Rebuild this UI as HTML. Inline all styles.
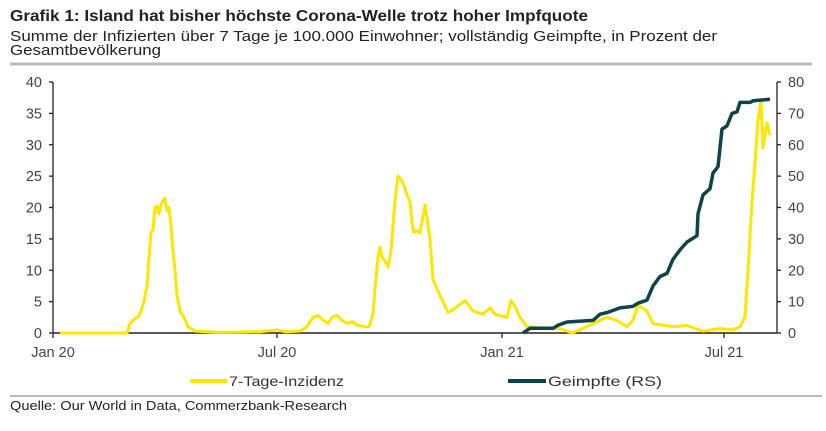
<!DOCTYPE html>
<html><head><meta charset="utf-8"><style>
body{margin:0;background:#fff;width:826px;height:426px;overflow:hidden;font-family:"Liberation Sans",sans-serif}
</style></head><body>
<svg id="s" width="826" height="426" xmlns="http://www.w3.org/2000/svg" font-family="Liberation Sans, sans-serif">
<text x="10" y="21" font-size="15.5" font-weight="bold" fill="#222" textLength="578" lengthAdjust="spacingAndGlyphs">Grafik 1: Island hat bisher höchste Corona-Welle trotz hoher Impfquote</text>
<text x="10" y="41" font-size="14.5" fill="#222" textLength="707" lengthAdjust="spacingAndGlyphs">Summe der Infizierten über 7 Tage je 100.000 Einwohner; vollständig Geimpfte, in Prozent der</text>
<text x="10" y="55" font-size="14.5" fill="#222" textLength="151" lengthAdjust="spacingAndGlyphs">Gesamtbevölkerung</text>
<line x1="10" y1="64" x2="812" y2="64" stroke="#bbb" stroke-width="3"/>
<g stroke="#222" stroke-width="1.3">
<line x1="53" y1="82" x2="53" y2="333"/>
<line x1="777" y1="82" x2="777" y2="333"/>
<line x1="53" y1="333" x2="777" y2="333" stroke-width="1.6"/>
</g>
<g id="ax" font-size="14.5" fill="#444"></g>
<polyline id="y" fill="none" stroke="#ffe600" stroke-width="3" stroke-linejoin="round"/>
<polyline id="g" fill="none" stroke="#0e4449" stroke-width="3.5" stroke-linejoin="round"/>
<line x1="190" y1="381" x2="227" y2="381" stroke="#ffe600" stroke-width="4"/>
<text x="229" y="386" font-size="14" fill="#333" textLength="115" lengthAdjust="spacingAndGlyphs">7-Tage-Inzidenz</text>
<line x1="508" y1="381" x2="546" y2="381" stroke="#0e4449" stroke-width="4"/>
<text x="548" y="386" font-size="14" fill="#333" textLength="114" lengthAdjust="spacingAndGlyphs">Geimpfte (RS)</text>
<line x1="10" y1="396" x2="822" y2="396" stroke="#bbb" stroke-width="2"/>
<text x="10" y="410" font-size="13" fill="#222" textLength="337" lengthAdjust="spacingAndGlyphs">Quelle: Our World in Data, Commerzbank-Research</text>
</svg>
<script>
var ns="http://www.w3.org/2000/svg",ax=document.getElementById("ax");
function t(x,y,s,a){var e=document.createElementNS(ns,"text");e.setAttribute("x",x);e.setAttribute("y",y);e.setAttribute("text-anchor",a);e.textContent=s;ax.appendChild(e);}
function l(x1,y1,x2,y2){var e=document.createElementNS(ns,"line");e.setAttribute("x1",x1);e.setAttribute("y1",y1);e.setAttribute("x2",x2);e.setAttribute("y2",y2);e.setAttribute("stroke","#222");e.setAttribute("stroke-width","1.3");ax.appendChild(e);}
for(var i=0;i<=8;i++){var y=333-i*251/8;t(42,y+5,String(i*5),"end");t(788,y+5,String(i*10),"start");l(49,y,53,y);l(777,y,781,y);}
[[53,"Jan 20"],[277,"Jul 20"],[502,"Jan 21"],[724,"Jul 21"]].forEach(function(p){t(p[0],357,p[1],"middle");l(p[0],333,p[0],338);});
var Y=[[60,0],[127,0],[130,1.5],[135,2.3],[138,2.5],[141,3.5],[144,5],[147,7.5],[149,12],[151,16],[153,16.5],[155,20],[157,20.2],[159,19],[161,20.5],[163,21],[165,21.5],[167,19.5],[169,20],[171,17],[173,13],[175,10],[177,6],[180,3.5],[184,2.5],[188,1],[195,0.3],[220,0.1],[260,0.2],[277,0.5],[285,0.2],[300,0.3],[307,1],[313,2.5],[318,2.8],[322,2.2],[328,1.5],[332,2.5],[337,2.8],[342,2],[348,1.5],[352,1.8],[358,1.2],[365,1],[369,1],[373,3],[375,7],[378,12],[380,13.7],[382,12],[385,11.5],[388,10.5],[391,13],[395,21],[398,25],[401,24.5],[404,23.5],[407,22],[410,21],[412,17.5],[414,16],[416,16.3],[420,16],[425,20.4],[430,15],[433,8.5],[440,6],[448,3.3],[453,3.7],[465,5.2],[473,3.5],[483,3],[490,4],[495,3],[507,2.5],[511,5.2],[515,4.2],[520,2.5],[527,1],[540,0.8],[560,0.7],[572,0],[587,1],[600,2],[607,2.5],[617,2],[627,1],[633,2],[638,4.5],[647,3.5],[653,1.5],[673,1],[687,1.2],[703,0.3],[720,0.7],[733,0.5],[740,1],[745,2.5],[748,10],[752,21],[755,27],[758,34],[761,37],[763,29.5],[767,33.5],[770,31.5]];
var G=[[523,0],[530,1.5],[553,1.5],[558,2.5],[567,3.5],[593,4],[600,6],[607,6.5],[620,8],[633,8.5],[638,9.5],[647,10.5],[653,15],[660,18],[667,19],[673,23.5],[680,26.5],[687,29],[697,31],[698,38],[703,44],[710,46],[713,51],[718,53],[722,65],[727,66],[732,70],[737,70.5],[740,73.5],[750,73.5],[753,74],[770,74.5]];
document.getElementById("y").setAttribute("points",Y.map(function(p){return p[0]+","+(333-p[1]*6.275).toFixed(1)}).join(" "));
document.getElementById("g").setAttribute("points",G.map(function(p){return p[0]+","+(333-p[1]*3.1375).toFixed(1)}).join(" "));
</script>
</body></html>
